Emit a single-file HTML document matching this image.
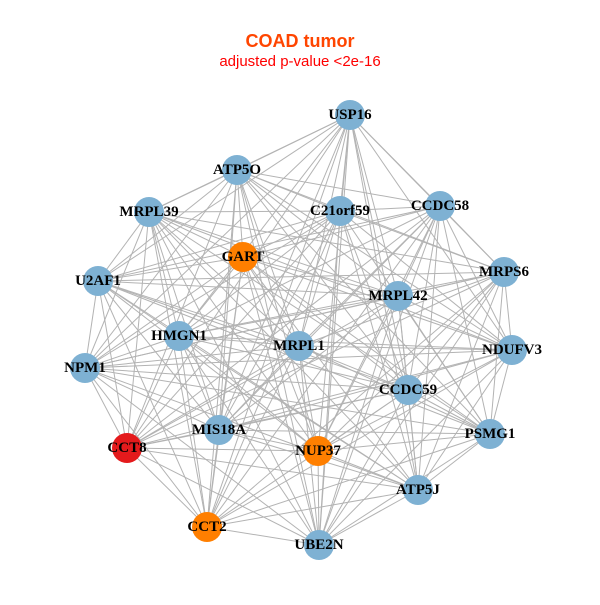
<!DOCTYPE html>
<html><head><meta charset="utf-8"><style>
html,body{margin:0;padding:0;background:#fff;}
svg text.l{font-family:"Liberation Serif",serif;font-weight:bold;font-size:15px;fill:#000;text-anchor:middle;dominant-baseline:central;}
</style></head><body>
<svg id="s" width="600" height="600" viewBox="0 0 600 600" xmlns="http://www.w3.org/2000/svg">
<rect width="600" height="600" fill="#fff"/>
<text x="300" y="47" font-family="Liberation Sans,sans-serif" font-weight="bold" font-size="18" fill="#FF4500" text-anchor="middle">COAD tumor</text>
<text x="300" y="66" font-family="Liberation Sans,sans-serif" font-size="15" fill="#FF0000" text-anchor="middle">adjusted p-value &lt;2e-16</text>
<g id="e" stroke="#b3b3b3" stroke-width="1"></g>
<g id="n">
<circle cx="350" cy="115" r="15" fill="#7EB1D3"/><text class="l" x="350" y="115">USP16</text>
<circle cx="237" cy="170" r="15" fill="#7EB1D3"/><text class="l" x="237" y="170">ATP5O</text>
<circle cx="149" cy="212" r="15" fill="#7EB1D3"/><text class="l" x="149" y="212">MRPL39</text>
<circle cx="340" cy="211" r="15" fill="#7EB1D3"/><text class="l" x="340" y="211">C21orf59</text>
<circle cx="440" cy="206" r="15" fill="#7EB1D3"/><text class="l" x="440" y="206">CCDC58</text>
<circle cx="243" cy="257" r="15" fill="#FF7F00"/><text class="l" x="243" y="257">GART</text>
<circle cx="98" cy="281" r="15" fill="#7EB1D3"/><text class="l" x="98" y="281">U2AF1</text>
<circle cx="504" cy="272" r="15" fill="#7EB1D3"/><text class="l" x="504" y="272">MRPS6</text>
<circle cx="398" cy="296" r="15" fill="#7EB1D3"/><text class="l" x="398" y="296">MRPL42</text>
<circle cx="179" cy="336" r="15" fill="#7EB1D3"/><text class="l" x="179" y="336">HMGN1</text>
<circle cx="299" cy="346" r="15" fill="#7EB1D3"/><text class="l" x="299" y="346">MRPL1</text>
<circle cx="512" cy="350" r="15" fill="#7EB1D3"/><text class="l" x="512" y="350">NDUFV3</text>
<circle cx="85" cy="368" r="15" fill="#7EB1D3"/><text class="l" x="85" y="368">NPM1</text>
<circle cx="408" cy="390" r="15" fill="#7EB1D3"/><text class="l" x="408" y="390">CCDC59</text>
<circle cx="490" cy="434" r="15" fill="#7EB1D3"/><text class="l" x="490" y="434">PSMG1</text>
<circle cx="219" cy="430" r="15" fill="#7EB1D3"/><text class="l" x="219" y="430">MIS18A</text>
<circle cx="127" cy="448" r="15" fill="#E41A1C"/><text class="l" x="127" y="448">CCT8</text>
<circle cx="318" cy="451" r="15" fill="#FF7F00"/><text class="l" x="318" y="451">NUP37</text>
<circle cx="418" cy="490" r="15" fill="#7EB1D3"/><text class="l" x="418" y="490">ATP5J</text>
<circle cx="207" cy="527" r="15" fill="#FF7F00"/><text class="l" x="207" y="527">CCT2</text>
<circle cx="319" cy="545" r="15" fill="#7EB1D3"/><text class="l" x="319" y="545">UBE2N</text>
</g>
</svg>
<script>
var c=document.querySelectorAll('#n circle'),g=document.getElementById('e'),p=[];
for(var i=0;i<c.length;i++)p.push([+c[i].getAttribute('cx'),+c[i].getAttribute('cy')]);
var h='';
for(var i=0;i<p.length;i++)for(var j=i+1;j<p.length;j++){
 if(((i*31+j*17)%9)==4)continue;
 h+='<line x1="'+p[i][0]+'" y1="'+p[i][1]+'" x2="'+p[j][0]+'" y2="'+p[j][1]+'"/>';
}
g.innerHTML=h;
</script>
</body></html>
